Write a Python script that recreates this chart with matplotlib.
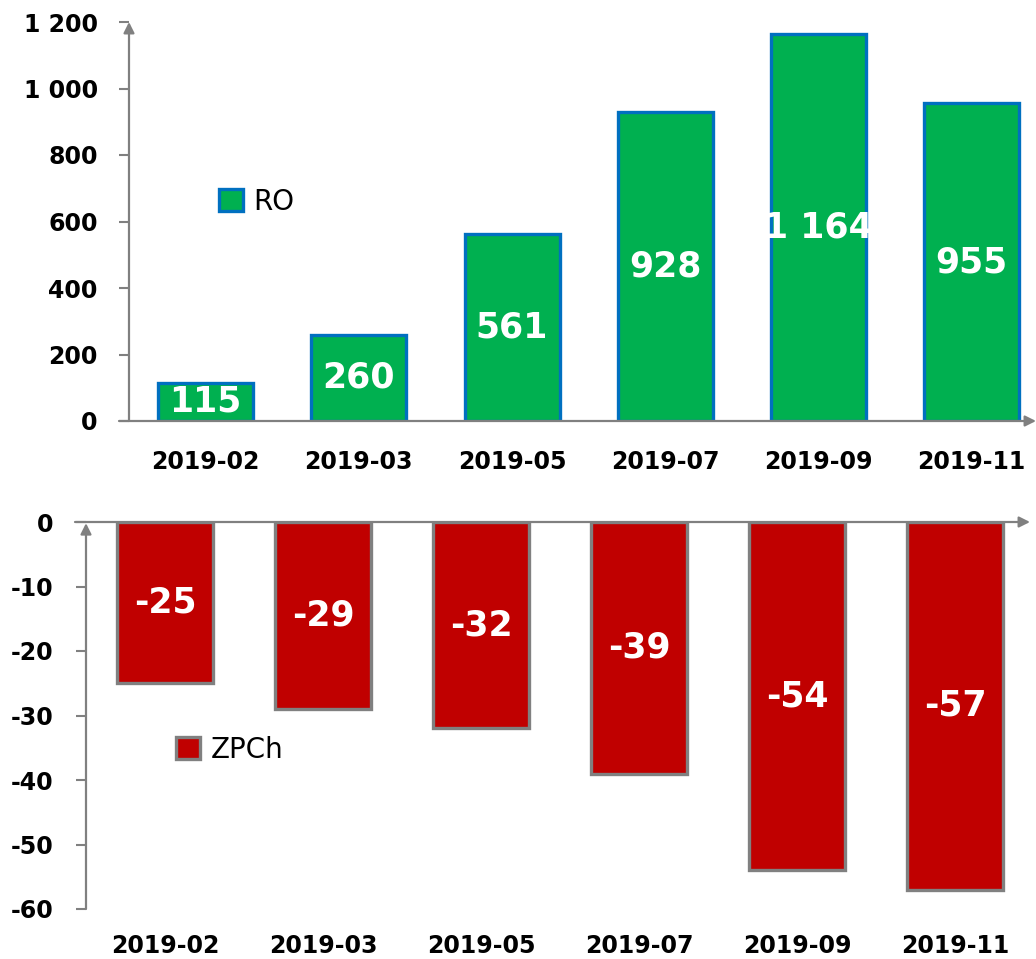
import matplotlib
matplotlib.use("Agg")
import matplotlib.pyplot as plt

months = ["2019-02", "2019-03", "2019-05", "2019-07", "2019-09", "2019-11"]
ro = [115, 260, 561, 928, 1164, 955]
zpch = [-25, -29, -32, -39, -54, -57]
ro_ticks = [0, 200, 400, 600, 800, 1000, 1200]
zpch_ticks = [0, -10, -20, -30, -40, -50, -60]

W, H = 1036, 959
fig = plt.figure(figsize=(W / 100, H / 100), dpi=100)
plt.rcParams['font.family'] = ['DejaVu Sans']

gray = "#808080"


def px_axes(left, top, right, bottom):
    return fig.add_axes([left / W, 1 - bottom / H, (right - left) / W, (bottom - top) / H])


def fmt(v):
    return f"{v:,}".replace(",", " ")


def style(ax, ticks, xpad, ypad):
    for s in ax.spines.values():
        s.set_visible(False)
    ax.set_yticks(ticks)
    ax.set_yticklabels([fmt(t) for t in ticks], fontsize=17, fontweight="bold")
    ax.tick_params(axis="y", length=7.5, width=1.5, color=gray, pad=ypad)
    ax.set_xticks(range(len(months)))
    ax.set_xticklabels(months, fontsize=17, fontweight="bold")
    ax.tick_params(axis="x", length=0, pad=xpad)


def arrow(ax, start, end):
    ax.annotate("", xy=end, xytext=start, xycoords="axes fraction",
                textcoords="axes fraction",
                arrowprops=dict(arrowstyle="-|>", color=gray, lw=1.6,
                                mutation_scale=16, shrinkA=0, shrinkB=0),
                annotation_clip=False)


# top chart: RO
ax1 = px_axes(129, 22, 1036, 421)
ax1.bar(range(len(months)), ro, width=0.62, color="#00B050", edgecolor="#0070C0",
        linewidth=2.4, label="RO", zorder=3)
ax1.set_xlim(-0.5, 5.42)
ax1.set_ylim(0, 1200)
style(ax1, ro_ticks, 21, 15)
arrow(ax1, (0, 0), (0, 1.0))
arrow(ax1, (-10 / 907, 0), (1.0, 0))
for i, v in enumerate(ro):
    ax1.text(i, v / 2, fmt(v), ha="center", va="center", color="white",
             fontsize=25, fontweight="bold", zorder=4)
ax1.legend(loc="center left", bbox_to_anchor=(219 / W, 1 - 202 / H),
           bbox_transform=fig.transFigure, frameon=False, fontsize=20,
           handlelength=0.85, handleheight=0.85, handletextpad=0.4,
           borderpad=0, borderaxespad=0)

# bottom chart: ZPCh
ax2 = px_axes(86, 522, 1030, 909)
ax2.bar(range(len(months)), zpch, width=0.61, color="#C00000", edgecolor=gray,
        linewidth=2.4, label="ZPCh", zorder=3)
ax2.set_xlim(-0.5, 5.475)
ax2.set_ylim(-60, 0)
style(ax2, zpch_ticks, 18, 16)
arrow(ax2, (0, 0), (0, 0.997))
arrow(ax2, (-11 / 944, 1.0), (1.0, 1.0))
for i, v in enumerate(zpch):
    ax2.text(i, v / 2, str(v), ha="center", va="center", color="white",
             fontsize=25, fontweight="bold", zorder=4)
ax2.legend(loc="center left", bbox_to_anchor=(176 / W, 1 - 750 / H),
           bbox_transform=fig.transFigure, frameon=False, fontsize=20,
           handlelength=0.85, handleheight=0.85, handletextpad=0.4,
           borderpad=0, borderaxespad=0)

fig.savefig("out.png", dpi=100)
